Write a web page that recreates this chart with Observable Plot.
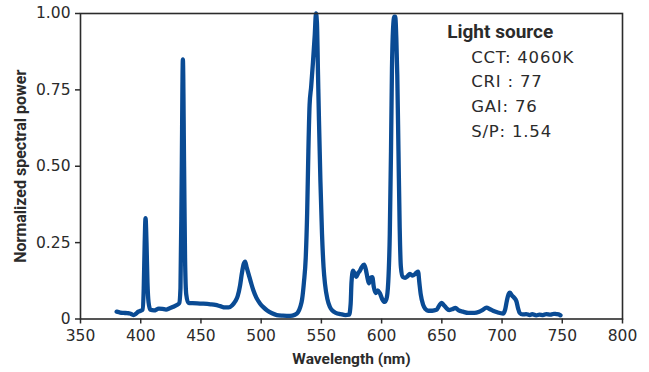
<!DOCTYPE html>
<html>
<head>
<meta charset="utf-8">
<script src="https://cdn.jsdelivr.net/npm/d3@7"></script>
<script src="https://cdn.jsdelivr.net/npm/@observablehq/plot@0.6"></script>
<style>
  html, body { margin: 0; padding: 0; background: #fff; }
  #chart svg { display: block; }
  .legend-lines text { letter-spacing: 0.8px; }
</style>
</head>
<body>
<div id="chart"></div>
<script>
const wavelength = [380,383,386,389,391,394,396,398,400,401.5,402.5,403.3,404,404.8,405.6,406.5,408,411,415,418,421,424,427,430,432,433,434,435,436,436.8,437.8,439.5,443,447,452,458,462,466,470,473,476,478.5,480.5,482.5,484,485.5,486.7,488,489.5,491.5,493.5,496,499,502,505,509,513,518,524,528,530.5,532.5,534,535.5,537,538.2,539.2,540.2,541.5,543,544.5,545.5,546.3,547.2,548,549.2,550.5,551.8,553,555,557,559,562,566,570,573,574.3,575,576.3,577.5,579,580.5,582,583.5,585.5,587,588.5,589.5,591,592.3,593.5,595,596.8,598.5,600.5,602.5,604,605.5,606.8,607.8,608.6,609.5,610.5,611.3,612.2,613,614,615,616,617.5,619.5,621.5,623.5,625.5,627.5,629,630.3,631.3,632.5,634.5,636.5,638.6,642,645.5,648,649.7,651.5,653.5,656,658.5,661.3,664,667.5,672,677,681,684,687,690,692.5,696,700.8,702.5,704,705.5,706.5,708,710,711.9,713.3,714.6,717,720,723,725,728.4,731,734,736.7,740,743,745,747,748.5];
const power = [0.024,0.021,0.020,0.019,0.018,0.013,0.017,0.024,0.027,0.03,0.10,0.25,0.33,0.25,0.12,0.055,0.03,0.028,0.034,0.033,0.031,0.035,0.04,0.046,0.052,0.10,0.45,0.85,0.5,0.2,0.08,0.053,0.052,0.051,0.05,0.048,0.046,0.042,0.038,0.038,0.045,0.058,0.075,0.11,0.15,0.18,0.188,0.168,0.148,0.12,0.094,0.07,0.051,0.038,0.028,0.019,0.013,0.011,0.010,0.014,0.022,0.04,0.065,0.12,0.2,0.35,0.55,0.7,0.76,0.84,0.93,1.0,0.97,0.8,0.65,0.45,0.28,0.17,0.115,0.065,0.04,0.028,0.02,0.016,0.013,0.014,0.05,0.12,0.158,0.15,0.138,0.15,0.158,0.17,0.178,0.16,0.13,0.117,0.135,0.137,0.105,0.085,0.094,0.085,0.065,0.056,0.065,0.12,0.28,0.55,0.82,0.95,0.99,0.99,0.92,0.8,0.55,0.3,0.17,0.138,0.135,0.14,0.148,0.142,0.146,0.152,0.155,0.12,0.08,0.046,0.032,0.027,0.027,0.03,0.045,0.053,0.046,0.037,0.029,0.032,0.036,0.028,0.024,0.02,0.02,0.024,0.03,0.037,0.032,0.027,0.022,0.018,0.03,0.06,0.082,0.086,0.078,0.07,0.058,0.035,0.02,0.015,0.016,0.013,0.016,0.012,0.014,0.013,0.016,0.014,0.017,0.016,0.015,0.012];

const xTicks = [350,400,450,500,550,600,650,700,750,800];
const yTicks = [0,0.25,0.5,0.75,1];
const yTickLabels = ["0","0.25","0.50","0.75","1.00"];
const xLabel = "Wavelength (nm)";
const yLabel = "Normalized spectral power";
const legendTitle = "Light source";
const legendLines = ["CCT: 4060K","CRI : 77","GAI: 76","S/P: 1.54"];

const data = wavelength.map((w, i) => ({w, p: power[i]}));
const font = "DejaVu Sans";
const boldFont = "Roboto";
const ink = "#2b2b2b";

const chart = Plot.plot({
  width: 649,
  height: 372,
  marginLeft: 80,
  marginRight: 27,
  marginTop: 13,
  marginBottom: 53.5,
  style: {fontFamily: font, color: ink, background: "#fff"},
  x: {domain: [350, 800]},
  y: {domain: [0, 1]},
  marks: [
    Plot.axisX({ticks: xTicks, tickSize: 5, tickPadding: 6, fontSize: 15.5, label: null, stroke: ink, strokeWidth: 1.5}),
    Plot.axisY({ticks: yTicks, tickSize: 5, tickPadding: 5, fontSize: 15.5, label: null, stroke: ink, strokeWidth: 1.5,
      tickFormat: d => yTickLabels[yTicks.indexOf(d)]}),
    Plot.line(data, {x: "w", y: "p", stroke: "#0a4b94", strokeWidth: 4.3, curve: "monotone-x", strokeLinejoin: "round", strokeLinecap: "round"}),
    Plot.frame({stroke: ink, strokeWidth: 1.6}),
    Plot.text([xLabel], {text: d => d, frameAnchor: "bottom", dy: 40.5, lineAnchor: "middle", fontSize: 15.5, fontFamily: boldFont, fontWeight: "bold", fill: ink}),
    Plot.text([yLabel], {text: d => d, frameAnchor: "left", dx: -60, rotate: -90, lineAnchor: "middle", textAnchor: "middle", fontSize: 16, fontFamily: boldFont, fontWeight: "bold", fill: ink}),
    Plot.text([legendTitle], {text: d => d, frameAnchor: "top-right", dx: -175.3, dy: 24.5, textAnchor: "start", lineAnchor: "bottom", fontSize: 19, fontFamily: boldFont, fontWeight: "bold", fill: ink}),
    Plot.text([legendLines.join("\n")], {text: d => d, className: "legend-lines", frameAnchor: "top-right", dx: -151.3, dy: 31.5, textAnchor: "start", lineAnchor: "top", lineHeight: 1.5, fontSize: 16.5, fill: ink})
  ]
});
document.getElementById("chart").appendChild(chart);
</script>
</body>
</html>
